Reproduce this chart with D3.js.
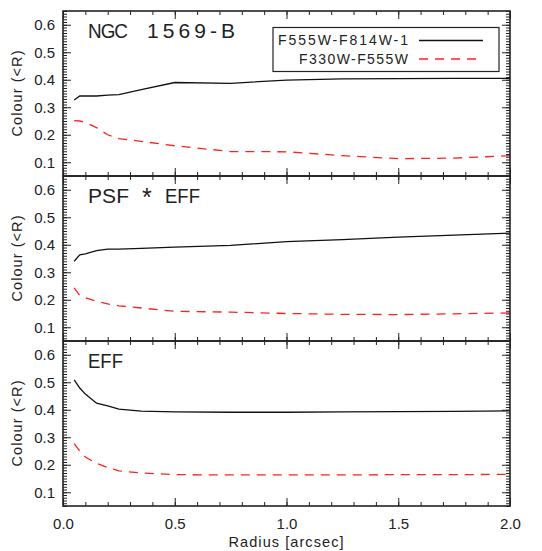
<!DOCTYPE html>
<html><head><meta charset="utf-8">
<script src="https://cdn.jsdelivr.net/npm/d3@7"></script>
<style>
body{margin:0;background:#fff;}
text{font-family:"Liberation Sans",Arial,sans-serif;fill:#222;}
</style></head>
<body><svg id="c" width="542" height="551"></svg>
<script>
const radius = [0.05,0.075,0.1,0.15,0.2,0.25,0.35,0.5,0.75,1.0,1.25,1.5,1.75,2.0];
const panelTitles = ["NGC 1569-B","PSF * EFF","EFF"];
const seriesNames = ["F555W-F814W-1","F330W-F555W"];
const blackTop = [0.326,0.341,0.341,0.341,0.344,0.346,0.364,0.390,0.387,0.399,0.403,0.404,0.405,0.405];
const redTop   = [0.251,0.250,0.245,0.226,0.200,0.186,0.176,0.160,0.139,0.138,0.124,0.113,0.115,0.124];
const blackMid = [0.340,0.363,0.367,0.379,0.384,0.384,0.387,0.391,0.398,0.411,0.419,0.428,0.435,0.442];
const redMid   = [0.243,0.215,0.207,0.195,0.185,0.178,0.170,0.158,0.155,0.150,0.147,0.146,0.149,0.152];
const blackEff = [0.509,0.479,0.457,0.424,0.414,0.402,0.395,0.392,0.391,0.391,0.392,0.393,0.394,0.396];
const redEff   = [0.277,0.250,0.228,0.205,0.190,0.178,0.170,0.164,0.163,0.163,0.163,0.164,0.164,0.165];
const yMajor = [0.1,0.2,0.3,0.4,0.5,0.6];
const xMajor = [0,0.5,1.0,1.5,2.0];

const svg = d3.select("#c");
const L=63, R=510, H=165, tops=[11,176,341];
const x = d3.scaleLinear().domain([0,2]).range([L,R]);
const panels = [[blackTop,redTop],[blackMid,redMid],[blackEff,redEff]];
const yMinor = d3.range(5,66).map(d=>d/100);
const xMinor = d3.range(0,21).map(d=>d/10);
const fmt = d3.format(".1f");

// title pieces: [text, x, width, scaleX, fontSize, dy]
const titleParts = [
  [["NGC",88,40,0.9,21,0],["1569-B",147,88,1,21,0]],
  [["PSF",88,41,1,21,0],["*",142,null,1,25,3],["EFF",165,35,0.88,21,0]],
  [["EFF",88,35,0.88,21,0]]
];

panels.forEach((p,i)=>{
  const t=tops[i], b=t+H;
  const y = d3.scaleLinear().domain([0.05,0.65]).range([b,t]);
  const g = svg.append("g");
  const line = d3.line().x((d,k)=>x(radius[k])).y(d=>y(d));
  g.append("path").attr("d",line(p[0])).attr("fill","none").attr("stroke","#111").attr("stroke-width",1.3);
  g.append("path").attr("d",line(p[1])).attr("fill","none").attr("stroke","#ff2020").attr("stroke-width",1.3).attr("stroke-dasharray","9,7");
  const axes = [
    [d3.axisLeft(y).tickValues(yMinor).tickSize(-4).tickFormat(""), `translate(${L},0)`],
    [d3.axisLeft(y).tickValues(yMajor).tickSize(-8).tickPadding(8).tickFormat(fmt), `translate(${L},0)`],
    [d3.axisRight(y).tickValues(yMinor).tickSize(-4).tickFormat(""), `translate(${R},0)`],
    [d3.axisRight(y).tickValues(yMajor).tickSize(-8).tickFormat(""), `translate(${R},0)`],
    [d3.axisTop(x).tickValues(xMinor).tickSize(-4).tickFormat(""), `translate(0,${t})`],
    [d3.axisTop(x).tickValues(xMajor).tickSize(-8).tickFormat(""), `translate(0,${t})`],
    [d3.axisBottom(x).tickValues(xMinor).tickSize(-4).tickFormat(""), `translate(0,${b})`],
    [d3.axisBottom(x).tickValues(xMajor).tickSize(-8).tickPadding(12).tickFormat(i===2?fmt:""), `translate(0,${b})`]
  ];
  axes.forEach(([ax,tr])=>{
    const a=g.append("g").attr("transform",tr).call(ax);
    a.select(".domain").remove();
    a.selectAll("line").attr("stroke","#222").attr("stroke-width",1);
    a.selectAll("text").attr("font-size",15).attr("fill","#222").attr("font-family","Liberation Sans, Arial, sans-serif");
  });
  g.append("rect").attr("x",L).attr("y",t).attr("width",R-L).attr("height",H)
    .attr("fill","none").attr("stroke","#222").attr("stroke-width",1.6);
  titleParts[i].forEach(([s,tx,w,sx,fs,dy])=>{
    const el = g.append("text").attr("transform",`translate(${tx},${t+27+dy}) scale(${sx},1)`)
      .attr("font-size",fs).text(s);
    if(w) el.attr("textLength",w/sx).attr("lengthAdjust","spacing");
  });
  g.append("text").attr("transform",`translate(22,${(t+b)/2}) rotate(-90)`).attr("text-anchor","middle")
    .attr("font-size",14.5).attr("textLength",86).attr("lengthAdjust","spacing").text("Colour (<R)");
});

const lg = svg.append("g");
lg.append("rect").attr("x",273).attr("y",27.5).attr("width",226).attr("height",44)
  .attr("fill","#fff").attr("stroke","#222").attr("stroke-width",1.2);
lg.append("text").attr("x",408).attr("y",45).attr("text-anchor","end").attr("font-size",14)
  .attr("textLength",130).attr("lengthAdjust","spacing").text(seriesNames[0]);
lg.append("text").attr("x",408).attr("y",64).attr("text-anchor","end").attr("font-size",14)
  .attr("textLength",109).attr("lengthAdjust","spacing").text(seriesNames[1]);
lg.append("line").attr("x1",419).attr("x2",483).attr("y1",40.5).attr("y2",40.5).attr("stroke","#111").attr("stroke-width",1.3);
lg.append("line").attr("x1",419).attr("x2",483).attr("y1",59).attr("y2",59).attr("stroke","#ff2020").attr("stroke-width",1.3).attr("stroke-dasharray","9,7");

svg.append("text").attr("x",286).attr("y",547).attr("text-anchor","middle").attr("font-size",14.5)
  .attr("textLength",115).attr("lengthAdjust","spacing").text("Radius [arcsec]");
</script></body></html>
